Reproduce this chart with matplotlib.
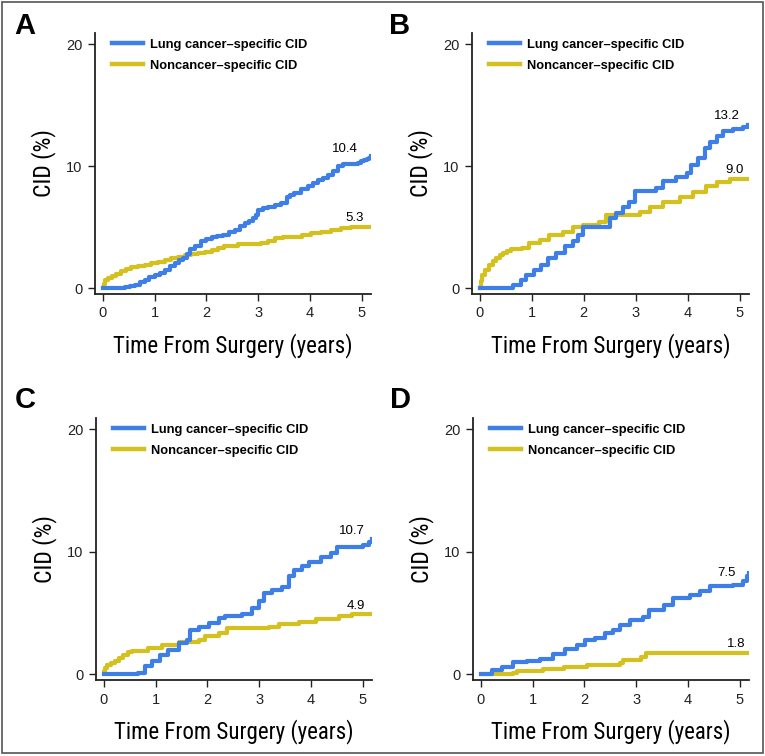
import matplotlib
matplotlib.use('Agg')
import matplotlib.pyplot as plt
from matplotlib import font_manager
from matplotlib.patches import Rectangle

blue = '#3d7fe6'
gold = '#d4c01e'

installed = {f.name for f in font_manager.fontManager.ttflist}
narrow = [f for f in ['Roboto Condensed', 'PT Sans Narrow', 'Archivo Narrow', 'Liberation Sans Narrow']
          if f in installed][:1] + ['DejaVu Sans']
plt.rcParams['font.family'] = ['Liberation Sans', 'DejaVu Sans']

panels = ['A', 'B', 'C', 'D']
labels = ['Lung cancer\u2013specific CID', 'Noncancer\u2013specific CID']
yticks = [0, 10, 20]
xticks = [0, 1, 2, 3, 4, 5]

# step curves: (time in years, CID %)
a_lung_t = [0, 0.3, 0.42, 0.52, 0.62, 0.71, 0.81, 0.9, 1.0, 1.1, 1.2, 1.3, 1.39, 1.47, 1.55, 1.62,
            1.68, 1.78, 1.9, 2.0, 2.1, 2.2, 2.32, 2.44, 2.55, 2.65, 2.74, 2.82, 2.9, 2.96, 3.0,
            3.1, 3.19, 3.32, 3.45, 3.55, 3.62, 3.7, 3.83, 3.96, 4.06, 4.16, 4.26, 4.35, 4.45,
            4.54, 4.64, 4.86, 4.93, 4.99, 5.05, 5.1, 5.15, 5.18]
a_lung_y = [0, 0.05, 0.1, 0.2, 0.3, 0.5, 0.7, 0.9, 1.1, 1.3, 1.5, 1.8, 2.1, 2.3, 2.5, 2.8,
            3.2, 3.5, 3.85, 4.05, 4.2, 4.3, 4.4, 4.6, 4.8, 5.1, 5.35, 5.55, 5.75, 6.0, 6.4,
            6.55, 6.7, 6.85, 7.0, 7.5, 7.65, 7.8, 8.1, 8.35, 8.6, 8.85, 9.05, 9.3, 9.65,
            10.0, 10.2, 10.2, 10.3, 10.4, 10.5, 10.6, 10.7, 10.8]
a_non_t = [0, 0.02, 0.04, 0.1, 0.17, 0.26, 0.36, 0.45, 0.55, 0.68, 0.81, 0.94, 1.07, 1.2, 1.32,
           1.45, 1.58, 1.71, 1.84, 1.97, 2.1, 2.22, 2.35, 2.61, 2.85, 3.06, 3.2, 3.32, 3.48,
           3.64, 3.84, 4.03, 4.22, 4.41, 4.6, 4.8, 5.18]
a_non_y = [0, 0.4, 0.7, 0.85, 1.0, 1.2, 1.4, 1.6, 1.75, 1.85, 1.95, 2.1, 2.2, 2.35, 2.5,
           2.6, 2.7, 2.8, 2.9, 3.0, 3.15, 3.3, 3.5, 3.6, 3.68, 3.75, 3.9, 4.1, 4.18,
           4.25, 4.38, 4.5, 4.65, 4.8, 4.95, 5.07, 5.07]

b_lung_t = [0, 0.53, 0.63, 0.79, 0.89, 1.05, 1.18, 1.31, 1.47, 1.63, 1.79, 1.89, 1.98, 2.43, 2.5,
            2.62, 2.75, 2.88, 2.98, 3.4, 3.53, 3.78, 3.98, 4.07, 4.2, 4.33, 4.43, 4.56, 4.68,
            4.88, 5.07, 5.17]
b_lung_y = [0, 0, 0.3, 0.7, 1.1, 1.5, 1.95, 2.5, 2.9, 3.45, 3.85, 4.4, 5.0, 5.0, 5.75,
            6.15, 6.7, 7.1, 7.95, 8.2, 8.8, 9.15, 9.45, 10.1, 10.7, 11.5, 12.0, 12.45, 12.85,
            13.05, 13.25, 13.4]
b_non_t = [0, 0.02, 0.05, 0.1, 0.18, 0.25, 0.31, 0.38, 0.44, 0.52, 0.6, 0.82, 0.95, 1.15, 1.34,
           1.6, 1.79, 1.98, 2.3, 2.43, 3.08, 3.27, 3.53, 3.85, 4.1, 4.36, 4.56, 4.81, 5.18]
b_non_y = [0, 0.6, 1.1, 1.5, 1.95, 2.25, 2.5, 2.7, 2.9, 3.05, 3.2, 3.3, 3.7, 4.0, 4.35,
           4.65, 5.0, 5.2, 5.45, 6.0, 6.25, 6.7, 7.05, 7.5, 7.9, 8.35, 8.7, 8.95, 8.95]

c_lung_t = [0, 0.67, 0.8, 0.93, 1.09, 1.25, 1.45, 1.61, 1.67, 1.83, 2.03, 2.22, 2.35, 2.67, 2.87,
            2.99, 3.09, 3.25, 3.44, 3.57, 3.67, 3.83, 3.96, 4.19, 4.38, 4.51, 5.0, 5.12, 5.18]
c_lung_y = [0, 0.1, 0.7, 1.1, 1.6, 2.0, 2.6, 2.85, 3.65, 3.9, 4.2, 4.6, 4.75, 4.9, 5.4,
            5.95, 6.6, 6.9, 7.1, 8.0, 8.5, 8.8, 9.2, 9.6, 9.9, 10.35, 10.55, 10.8, 11.0]
c_non_t = [0, 0.03, 0.06, 0.14, 0.22, 0.3, 0.38, 0.46, 0.54, 0.86, 1.12, 1.45, 1.83, 1.96, 2.22,
           2.38, 3.19, 3.38, 3.77, 4.09, 4.54, 4.8, 5.18]
c_non_y = [0.2, 0.5, 0.8, 0.95, 1.1, 1.35, 1.6, 1.8, 1.95, 2.15, 2.4, 2.65, 2.85, 3.1, 3.4,
           3.8, 3.9, 4.1, 4.3, 4.5, 4.75, 4.9, 4.9]

d_lung_t = [0, 0.18, 0.21, 0.41, 0.63, 0.89, 1.15, 1.4, 1.63, 1.85, 2.01, 2.21, 2.4, 2.56, 2.69,
            2.88, 3.14, 3.24, 3.53, 3.72, 4.04, 4.23, 4.43, 4.88, 5.07, 5.15, 5.18]
d_lung_y = [0, 0, 0.35, 0.6, 1.0, 1.1, 1.3, 1.7, 2.05, 2.4, 2.8, 3.0, 3.35, 3.6, 4.0,
            4.4, 4.7, 5.25, 5.65, 6.25, 6.45, 6.8, 7.2, 7.3, 7.6, 8.0, 8.25]
d_non_t = [0, 0.63, 0.7, 1.21, 1.6, 2.05, 2.69, 2.75, 3.1, 3.2, 5.18]
d_non_y = [0, 0.1, 0.27, 0.45, 0.6, 0.75, 0.9, 1.15, 1.45, 1.75, 1.75]

final_lung = ['10.4', '13.2', '10.7', '7.5']
final_non = ['5.3', '9.0', '4.9', '1.8']
lung_label_pos = [(4.67, 11.4), (4.75, 14.1), (4.8, 11.7), (4.74, 8.3)]
non_label_pos = [(4.86, 5.75), (4.91, 9.7), (4.86, 5.55), (4.93, 2.5)]

lung_curves = [(a_lung_t, a_lung_y), (b_lung_t, b_lung_y), (c_lung_t, c_lung_y), (d_lung_t, d_lung_y)]
non_curves = [(a_non_t, a_non_y), (b_non_t, b_non_y), (c_non_t, c_non_y), (d_non_t, d_non_y)]

fig = plt.figure(figsize=(7.65, 7.56), dpi=100)
fig.patches.append(Rectangle((0.002, 0.004), 0.995, 0.994, transform=fig.transFigure,
                             fill=False, edgecolor='#555555', linewidth=1.2))

W, H = 765, 756
boxes = [(95, 33, 371, 294), (472, 33, 749, 294), (96, 418, 372, 680), (473, 418, 749, 680)]
letter_pos = [(25, 26), (400, 26), (25, 400), (400, 400)]

for i in range(4):
    l, t, r, b = boxes[i]
    ax = fig.add_axes([l / W, 1 - b / H, (r - l) / W, (b - t) / H])
    lt, ly = lung_curves[i]
    nt, ny = non_curves[i]
    ax.plot(lt, ly, drawstyle='steps-post', color=blue, lw=3.0, label=labels[0], zorder=3)
    ax.plot(nt, ny, drawstyle='steps-post', color=gold, lw=3.0, label=labels[1], zorder=2)
    ax.text(*lung_label_pos[i], final_lung[i], ha='center', va='center', fontsize=9.5)
    ax.text(*non_label_pos[i], final_non[i], ha='center', va='center', fontsize=9.5)

    ax.set_xlim(-0.15, 5.18)
    ax.set_ylim(-0.45, 20.9)
    ax.set_xticks(xticks)
    ax.set_yticks(yticks)
    for s in ['top', 'right']:
        ax.spines[s].set_visible(False)
    for s in ['left', 'bottom']:
        ax.spines[s].set_linewidth(1.3)
        ax.spines[s].set_color('#222222')
    ax.tick_params(direction='out', length=5, width=1, colors='#222222', labelsize=10.5, pad=4)
    ax.set_xlabel('Time From Surgery (years)', fontsize=16.5, family=narrow, labelpad=9)
    ax.set_ylabel('CID (%)', fontsize=17, family=narrow, labelpad=7)

    leg = ax.legend(loc='upper left', bbox_to_anchor=(0.06, 0.978), frameon=False,
                    prop={'weight': 'bold', 'size': 9.3},
                    handlelength=2.4, handletextpad=0.57, labelspacing=0.68,
                    borderpad=0, borderaxespad=0)
    for line in leg.get_lines():
        line.set_linewidth(3.2)

    fig.text(letter_pos[i][0] / W, 1 - letter_pos[i][1] / H, panels[i], fontsize=21,
             fontweight='bold', ha='center', va='center')

fig.savefig('out.png', dpi=100)
